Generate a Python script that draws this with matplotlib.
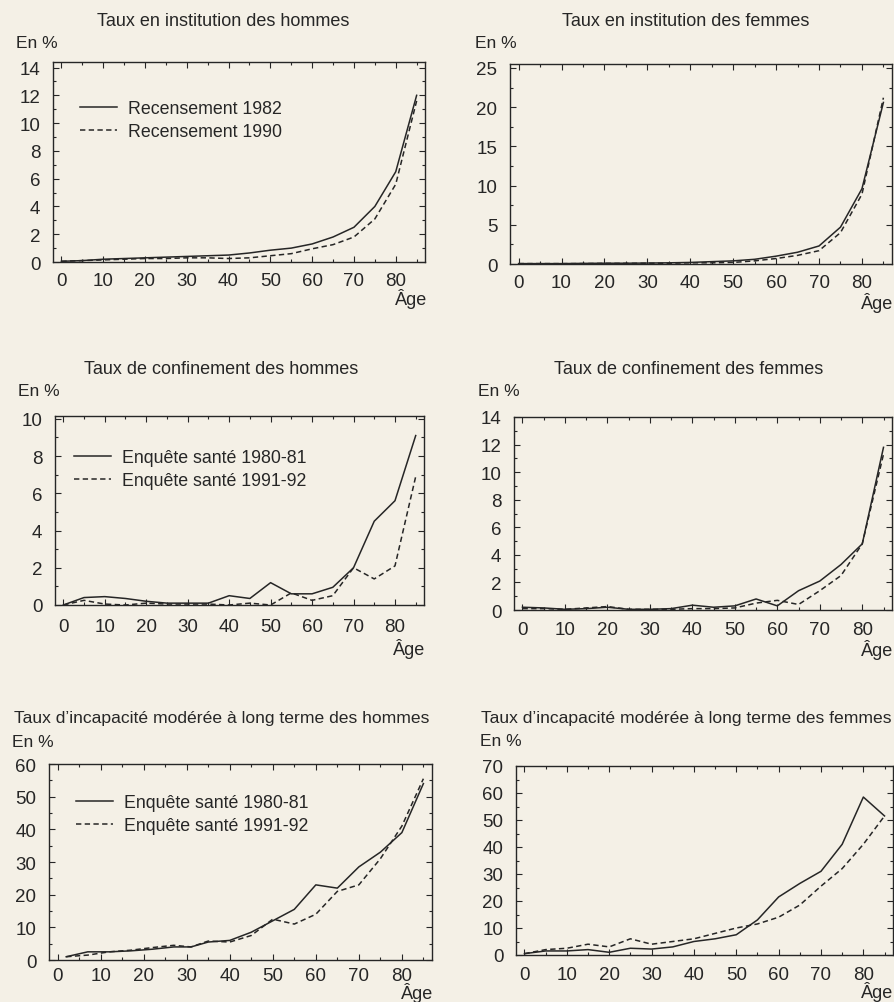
import matplotlib
matplotlib.use("Agg")
import matplotlib.pyplot as plt
from matplotlib.ticker import MultipleLocator

plt.rcParams['font.family'] = ['Liberation Sans', 'DejaVu Sans']

# tranches d'age
ages = [0, 5, 10, 15, 20, 25, 30, 35, 40, 45, 50, 55, 60, 65, 70, 75, 80, 85]
ages_incap_h = [2, 7, 12, 17, 22, 27, 31, 35, 40, 45, 50, 55, 60, 65, 70, 75, 80, 85]

# taux en institution (recensements)
inst_h_1982 = [0.05, 0.1, 0.2, 0.25, 0.3, 0.35, 0.4, 0.45, 0.5, 0.65, 0.85, 1.0, 1.3, 1.8, 2.5, 4.0, 6.5, 12.0]
inst_h_1990 = [0.05, 0.1, 0.15, 0.2, 0.25, 0.25, 0.3, 0.3, 0.25, 0.3, 0.45, 0.6, 0.95, 1.25, 1.8, 3.1, 5.6, 11.6]
inst_f_1982 = [0.05, 0.05, 0.05, 0.08, 0.1, 0.1, 0.12, 0.15, 0.2, 0.3, 0.4, 0.6, 1.0, 1.5, 2.3, 4.7, 9.6, 20.6]
inst_f_1990 = [0.05, 0.05, 0.05, 0.05, 0.08, 0.08, 0.1, 0.1, 0.15, 0.15, 0.2, 0.4, 0.7, 1.1, 1.7, 4.0, 8.9, 21.2]

# taux de confinement (enquetes sante)
conf_h_8081 = [0.0, 0.4, 0.45, 0.35, 0.2, 0.1, 0.1, 0.1, 0.5, 0.35, 1.2, 0.6, 0.6, 0.95, 2.0, 4.5, 5.6, 9.1]
conf_h_9192 = [0.0, 0.25, 0.05, 0.0, 0.1, 0.05, 0.05, 0.05, 0.0, 0.1, 0.0, 0.65, 0.25, 0.5, 2.0, 1.4, 2.1, 6.9]
conf_f_8081 = [0.2, 0.15, 0.05, 0.1, 0.2, 0.05, 0.05, 0.1, 0.35, 0.2, 0.3, 0.8, 0.3, 1.4, 2.1, 3.3, 4.8, 11.8]
conf_f_9192 = [0.1, 0.1, 0.05, 0.15, 0.25, 0.05, 0.05, 0.05, 0.1, 0.1, 0.15, 0.5, 0.7, 0.4, 1.4, 2.5, 4.8, 11.3]

# taux d'incapacite moderee a long terme
incap_h_8081 = [1.0, 2.5, 2.5, 2.8, 3.3, 4.0, 4.0, 5.5, 6.0, 8.5, 12.0, 15.5, 23.0, 22.0, 28.5, 33.0, 39.0, 54.0]
incap_h_9192 = [1.0, 1.5, 2.5, 3.0, 3.8, 4.5, 4.0, 5.8, 5.5, 7.5, 12.5, 11.0, 14.0, 21.0, 23.0, 31.0, 41.0, 55.5]
incap_f_8081 = [0.5, 1.5, 1.5, 2.0, 1.0, 2.5, 2.2, 3.0, 5.0, 6.0, 7.5, 13.0, 21.5, 26.5, 31.0, 41.0, 58.5, 51.5]
incap_f_9192 = [0.5, 2.0, 2.5, 4.0, 3.0, 6.0, 4.0, 5.0, 6.0, 8.0, 10.0, 11.5, 14.0, 18.5, 25.5, 32.0, 41.0, 51.5]

titres = ["Taux en institution des hommes", "Taux en institution des femmes",
          "Taux de confinement des hommes", "Taux de confinement des femmes",
          "Taux d\u2019incapacité modérée à long terme des hommes",
          "Taux d\u2019incapacité modérée à long terme des femmes"]
leg_recens = ["Recensement 1982", "Recensement 1990"]
leg_enquete = ["Enquête santé 1980-81", "Enquête santé 1991-92"]

W, H = 895, 1003
BG = '#f4f0e6'
INK = '#262626'

fig = plt.figure(figsize=(W / 100, H / 100), dpi=100, facecolor=BG)


def px_axes(x1, y1, x2, y2):
    # boite en pixels (haut gauche -> bas droite)
    return fig.add_axes([x1 / W, 1 - y2 / H, (x2 - x1) / W, (y2 - y1) / H])


def panel(box, x1, s1, x2, s2, ymax, ystep, titre, tsize, tpos, enpos, agepos,
          xpad=7, leg=None, legpos=None):
    ax = px_axes(*box)
    ax.set_facecolor(BG)
    l1, = ax.plot(x1, s1, color=INK, lw=1.1)
    l2, = ax.plot(x2, s2, color=INK, lw=1.1, dashes=(3.5, 2.2))
    ax.set_xlim(-2, 87)
    ax.set_ylim(0, ymax)
    ax.xaxis.set_major_locator(MultipleLocator(10))
    ax.xaxis.set_minor_locator(MultipleLocator(5))
    ax.yaxis.set_major_locator(MultipleLocator(ystep))
    ax.yaxis.set_minor_locator(MultipleLocator(ystep / 2))
    ax.tick_params(which='both', direction='in', top=True, right=True, color=INK,
                   labelsize=13.5, labelcolor=INK, width=0.8)
    ax.tick_params(which='major', length=4)
    ax.tick_params(which='minor', length=2.5)
    ax.tick_params(axis='x', pad=xpad)
    ax.tick_params(axis='y', pad=9)
    for sp in ax.spines.values():
        sp.set_color(INK)
        sp.set_linewidth(1.0)
    fig.text(tpos[0] / W, 1 - tpos[1] / H, titre, ha='center', va='center',
             fontsize=tsize, color=INK)
    fig.text(enpos[0] / W, 1 - enpos[1] / H, "En %", ha='left', va='center',
             fontsize=12.5, color=INK)
    fig.text(agepos[0] / W, 1 - agepos[1] / H, "Âge", ha='right', va='center',
             fontsize=13, color=INK)
    if leg:
        ax.legend([l1, l2], leg, loc='center left', frameon=False,
                  bbox_to_anchor=(legpos[0] / W, 1 - legpos[1] / H),
                  bbox_transform=fig.transFigure, fontsize=12.8,
                  handlelength=2.1, handletextpad=0.6, labelspacing=0.35,
                  borderpad=0, borderaxespad=0, labelcolor=INK)
    return ax


panel((53, 63, 425, 263), ages, inst_h_1982, ages, inst_h_1990, 14.4, 2,
      titres[0], 13, (223, 21), (16, 44), (427, 299), 7, leg_recens, (80, 121))
panel((510, 65, 892, 265), ages, inst_f_1982, ages, inst_f_1990, 25.5, 5,
      titres[1], 13, (686, 21), (475, 44), (893, 303), 7)
panel((55, 417, 424, 606), ages, conf_h_8081, ages, conf_h_9192, 10.15, 2,
      titres[2], 13, (221, 369), (18, 392), (425, 649), 9, leg_enquete, (74, 470))
panel((514, 418, 892, 611), ages, conf_f_8081, ages, conf_f_9192, 14, 2,
      titres[3], 13, (689, 369), (478, 392), (893, 650), 8)
panel((49, 765, 432, 961), ages_incap_h, incap_h_8081, ages_incap_h, incap_h_9192, 60, 10,
      titres[4], 12.6, (222, 719), (12, 743), (433, 993), 5, leg_enquete, (76, 815))
panel((516, 767, 893, 956), ages, incap_f_8081, ages, incap_f_9192, 70, 10,
      titres[5], 12.6, (686, 719), (480, 742), (893, 992), 8)

fig.savefig("out.png", dpi=100, facecolor=BG)
